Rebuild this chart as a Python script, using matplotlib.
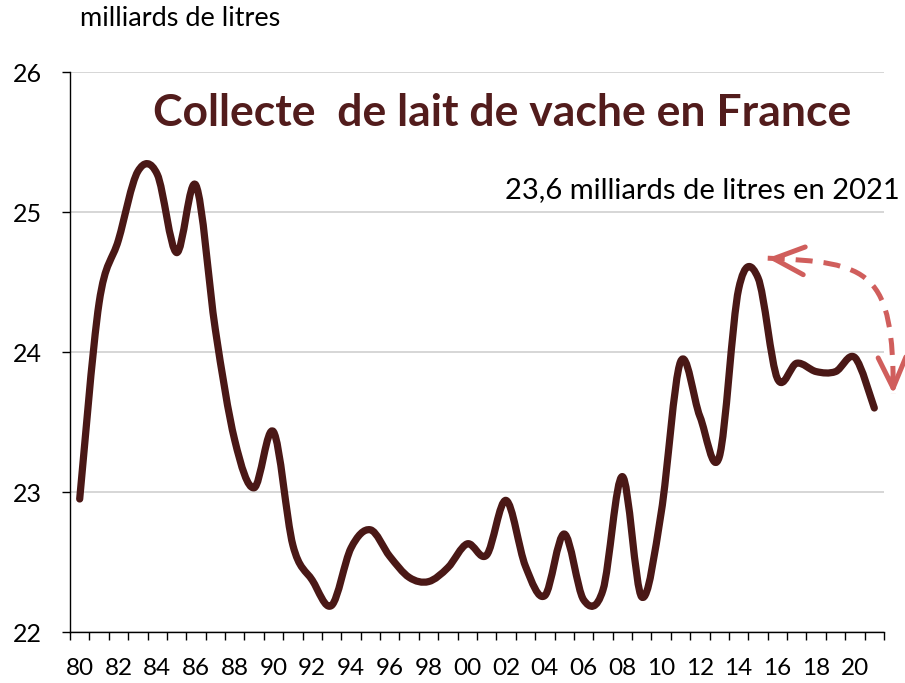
import matplotlib
matplotlib.use("Agg")
import matplotlib.pyplot as plt
from matplotlib.path import Path
from matplotlib.patches import PathPatch
import numpy as np

# Collecte de lait de vache en France, milliards de litres, 1980-2021
years = list(range(1980, 2022))
collecte = [22.95, 24.35, 24.80, 25.29, 25.27, 24.71, 25.19, 24.16, 23.37, 23.03,
            23.43, 22.62, 22.37, 22.19, 22.60, 22.73, 22.54, 22.39, 22.36, 22.46,
            22.63, 22.55, 22.94, 22.47, 22.26, 22.70, 22.23, 22.30, 23.11, 22.25,
            22.85, 23.93, 23.54, 23.25, 24.45, 24.53, 23.81, 23.92, 23.86, 23.86,
            23.96, 23.60]
tick_labels = ['80', '82', '84', '86', '88', '90', '92', '94', '96', '98', '00',
               '02', '04', '06', '08', '10', '12', '14', '16', '18', '20']

LINE_COL = '#4a1816'
ARROW_COL = '#d05e5c'
plt.rcParams['font.family'] = ['Lato', 'DejaVu Sans']


def smooth_path(xs, ys):
    # Excel style smoothed line: cubic Bezier between consecutive points
    pts = np.column_stack([xs, ys]).astype(float)
    n = len(pts)
    verts = [pts[0]]
    codes = [Path.MOVETO]
    for i in range(n - 1):
        p0 = pts[i - 1] if i > 0 else pts[i]
        p1 = pts[i]
        p2 = pts[i + 1]
        p3 = pts[i + 2] if i + 2 < n else pts[i + 1]
        c1 = p1 + (p2 - p0) / 6.0
        c2 = p2 - (p3 - p1) / 6.0
        verts += [c1, c2, p2]
        codes += [Path.CURVE4] * 3
    return Path(verts, codes)


fig = plt.figure(figsize=(9.05, 6.83), dpi=100)
ax = fig.add_axes([70 / 905, 1 - 632 / 683, 814 / 905, 560 / 683])

x = np.arange(len(years))
ax.add_patch(PathPatch(smooth_path(x, collecte), facecolor='none',
                       edgecolor=LINE_COL, lw=5.2, capstyle='round',
                       joinstyle='round', zorder=3))

ax.set_xlim(-0.5, len(years) - 0.5)
ax.set_ylim(22, 26)
ax.set_yticks([22, 23, 24, 25, 26])
ax.grid(axis='y', color='#d0d0d0', lw=1.2)
ax.set_axisbelow(True)
for s in ['top', 'right']:
    ax.spines[s].set_visible(False)
for s in ['left', 'bottom']:
    ax.spines[s].set_linewidth(1.0)

# ticks between categories, labels every second year
ax.set_xticks(np.arange(-0.5, len(years), 1.0))
ax.set_xticklabels([])
ax.set_xticks(np.arange(0, len(years), 2), minor=True)
ax.set_xticklabels(tick_labels, minor=True, fontsize=17.5)
ax.tick_params(axis='x', which='major', length=6, width=1, direction='out')
ax.tick_params(axis='x', which='minor', length=0, pad=19)
ax.tick_params(axis='y', length=6, width=1, pad=14, labelsize=18)

fig.text(80 / 905, 1 - 19 / 683, 'milliards de litres', fontsize=19.5,
         va='center', ha='left')
fig.text(502 / 905, 1 - 113 / 683, 'Collecte  de lait de vache en France',
         fontsize=32, fontweight='bold', color='#521c1c', va='center',
         ha='center')
fig.text(900 / 905, 1 - 190 / 683, '23,6 milliards de litres en 2021',
         fontsize=21, va='center', ha='right')

# curved dashed double arrow (drawn in axis units, outside the plot on the right)
a_start = (35.5, 24.67)
a_ctrl1 = (40.8, 24.64)
a_ctrl2 = (42.0, 24.58)
a_end = (41.98, 23.70)
arc = Path([a_start, a_ctrl1, a_ctrl2, a_end],
           [Path.MOVETO, Path.CURVE4, Path.CURVE4, Path.CURVE4])
ax.add_patch(PathPatch(arc, facecolor='none', edgecolor=ARROW_COL, lw=3.6,
                       linestyle=(0, (3.4, 2.2)), clip_on=False, zorder=4))
head = dict(arrowstyle='->,head_length=2.2,head_width=1.0', color=ARROW_COL,
            lw=3.6, shrinkA=0, shrinkB=0)
ax.annotate('', xy=a_start, xytext=(a_start[0] + 0.5, a_start[1] - 0.005),
            arrowprops=head, annotation_clip=False, zorder=4)
ax.annotate('', xy=a_end, xytext=(a_end[0] - 0.03, a_end[1] + 0.12),
            arrowprops=head, annotation_clip=False, zorder=4)

fig.savefig('out.png', dpi=100)
